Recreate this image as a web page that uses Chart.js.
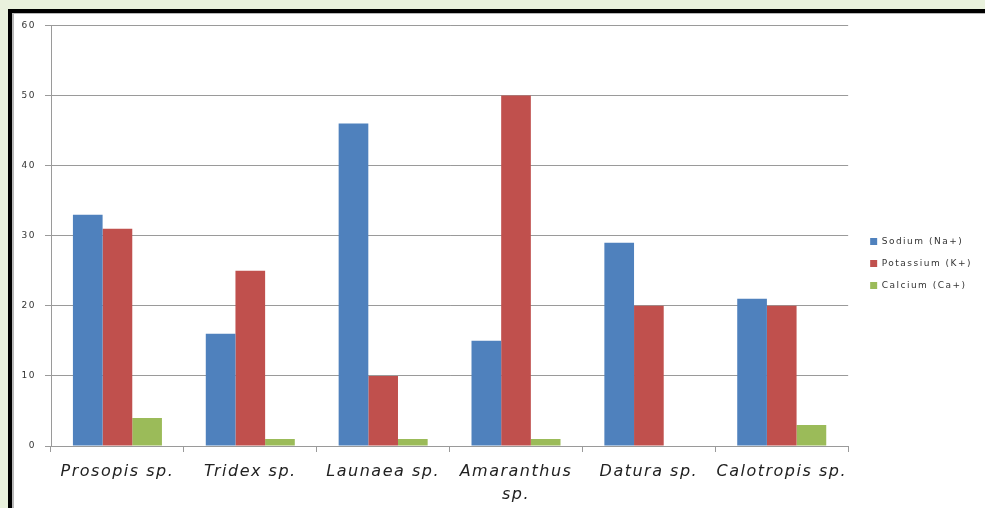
<!DOCTYPE html>
<html>
<head>
<meta charset="utf-8">
<title>Ion content by species</title>
<script src="https://cdn.jsdelivr.net/npm/chart.js@4/dist/chart.umd.min.js"></script>
<style>
  html, body { margin: 0; padding: 0; }
  body { width: 985px; height: 508px; overflow: hidden; background: #e9f1dd; position: relative; }
  #frame {
    position: absolute; left: 8px; top: 9px; width: 990px; height: 510px;
    background: #fff; border-left: 4px solid #000; border-top: 4px solid #000;
  }
  #frame canvas { position: absolute; left: 0; top: -2px; }
  #edge {
    position: absolute; left: 0; top: 0; width: 100%; height: 100%;
    border-left: 2px solid #b8b8b8; border-top: 1px solid #b8b8b8; pointer-events: none;
    box-sizing: border-box;
  }
</style>
</head>
<body>
<div id="frame">
  <canvas id="chart" width="973" height="497" style="width:973px;height:497px"></canvas>
  <div id="edge"></div>
</div>
<script>
// Plant species sampled
const species = [
  "Prosopis sp.",
  "Tridex sp.",
  "Launaea sp.",
  ["Amaranthus", "sp."],
  "Datura sp.",
  "Calotropis sp."
];

// Ion concentrations per species
const sodium    = [33, 16, 46, 15, 29, 21];
const potassium = [31, 25, 10, 50, 20, 20];
const calcium   = [4, 1, 1, 1, 0, 3];

const seriesNames = ["Sodium (Na+)", "Potassium (K+)", "Calcium (Ca+)"];
const seriesColors = ["#4f81bd", "#c0504d", "#9bbb59"];

const yMin = 0, yMax = 60, yStep = 10;

const gridGrey = "#9a9a9a";

// Widen the lettering of all canvas text a little
const wideText = {
  id: "wideText",
  beforeUpdate(chart) { chart.ctx.letterSpacing = "1.5px"; },
  beforeDraw(chart) { chart.ctx.letterSpacing = "1.5px"; }
};

// Nudge the legend block a few pixels away from the plot
const legendNudge = {
  id: "legendNudge",
  afterUpdate(chart) {
    const lg = chart.legend;
    if (!lg) return;
    lg.left += 9; lg.right += 9;
    lg.top -= 1; lg.bottom -= 1;
  }
};

new Chart(document.getElementById("chart"), {
  type: "bar",
  data: {
    labels: species,
    datasets: [sodium, potassium, calcium].map((values, i) => ({
      label: seriesNames[i],
      data: values,
      backgroundColor: seriesColors[i],
      borderWidth: 0,
      categoryPercentage: 0.67,
      barPercentage: 1.0
    }))
  },
  plugins: [wideText, legendNudge],
  options: {
    responsive: false,
    animation: false,
    devicePixelRatio: 1,
    layout: { padding: { top: 10, left: 0, right: 12, bottom: 0 } },
    plugins: {
      legend: {
        position: "right",
        align: "center",
        labels: {
          boxWidth: 7,
          boxHeight: 7,
          padding: 13,
          color: "#333",
          font: { family: "DejaVu Sans", size: 9 }
        }
      },
      tooltip: { enabled: false }
    },
    scales: {
      x: {
        grid: {
          offset: true,
          drawOnChartArea: false,
          drawTicks: true,
          tickLength: 6,
          color: gridGrey
        },
        border: { display: true, color: gridGrey, width: 1 },
        ticks: {
          color: "#222",
          padding: 9,
          maxRotation: 0,
          autoSkip: false,
          font: { family: "DejaVu Sans", size: 16, style: "italic", lineHeight: 1.4 }
        },
        afterFit(scale) { scale.height = 62; }
      },
      y: {
        min: yMin,
        max: yMax,
        grid: {
          color: gridGrey,
          lineWidth: 1,
          drawTicks: true,
          tickLength: 6
        },
        border: { display: true, color: gridGrey, width: 1 },
        ticks: {
          stepSize: yStep,
          color: "#333",
          padding: 9,
          font: { family: "DejaVu Sans", size: 9 }
        },
        afterFit(scale) { scale.width = 39; }
      }
    }
  }
});
</script>
</body>
</html>
